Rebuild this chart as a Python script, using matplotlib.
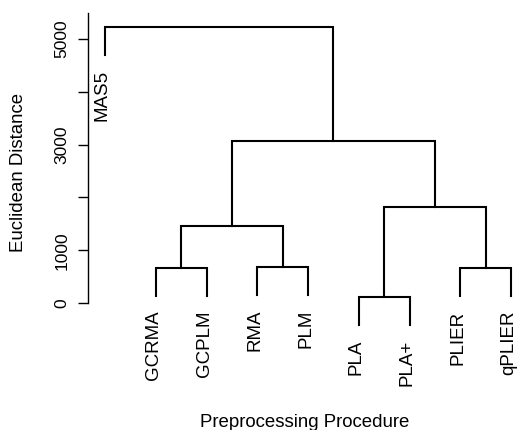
import matplotlib
matplotlib.use("Agg")
import matplotlib.pyplot as plt

plt.rcParams['font.family'] = ['Liberation Sans', 'DejaVu Sans']

# leaves in plotting order
labels = ["MAS5", "GCRMA", "GCPLM", "RMA", "PLM", "PLA", "PLA+", "PLIER", "qPLIER"]

# merges like R's hclust: negative = leaf (1-based), positive = earlier merge
merge_left = [-2, -4, -6, -8, 1, 3, 5, -1]
merge_right = [-3, -5, -7, -9, 2, 4, 6, 7]
merge_height = [663, 682, 114, 663, 1458, 1818, 3068, 5227]

yticks = [0, 1000, 2000, 3000, 4000, 5000]
ytick_labels = ["0", "1000", "", "3000", "", "5000"]

fig = plt.figure(figsize=(5.19, 4.30), dpi=100)
ax = fig.add_axes([88 / 519, (430 - 303) / 430, 1 - 88 / 519, 290 / 430])

hang = 0.1 * max(merge_height)
pos = {}
for i in range(len(labels)):
    pos[-(i + 1)] = i + 1

lw = 1.5
for k, (a, b, h) in enumerate(zip(merge_left, merge_right, merge_height)):
    xa, xb = pos[a], pos[b]
    ya = merge_height[a - 1] if a > 0 else h - hang
    yb = merge_height[b - 1] if b > 0 else h - hang
    ax.plot([xa, xa, xb, xb], [ya, h, h, yb], color="black", lw=lw,
            clip_on=False, solid_joinstyle="miter")
    pos[k + 1] = (xa + xb) / 2
    # leaf labels hang below the end of each leaf
    for c, yc in ((a, ya), (b, yb)):
        if c < 0:
            ax.annotate(labels[-c - 1], (pos[c], yc), xytext=(-1.8, -11),
                        textcoords="offset points", rotation=90,
                        ha="center", va="top", fontsize=13.5,
                        annotation_clip=False)

ax.set_xlim(1 - 17 / 50.75, 1 + (519 - 105) / 50.75)
ax.set_ylim(0, 5492)
for s in ["top", "right", "bottom"]:
    ax.spines[s].set_visible(False)
ax.spines["left"].set_linewidth(1.0)
ax.set_xticks([])
ax.set_yticks(yticks)
ax.set_yticklabels(ytick_labels, rotation=90, va="center", fontsize=12.5)
ax.tick_params(axis="y", length=7.2, width=1.0, pad=6)

fig.text(19 / 519, 1 - 172 / 430, "Euclidean Distance", rotation=90,
         ha="center", va="center", fontsize=13.4)
fig.text(305 / 519, 1 - 427 / 430, "Preprocessing Procedure",
         ha="center", va="baseline", fontsize=13.4)

fig.savefig("out.png", dpi=100)
